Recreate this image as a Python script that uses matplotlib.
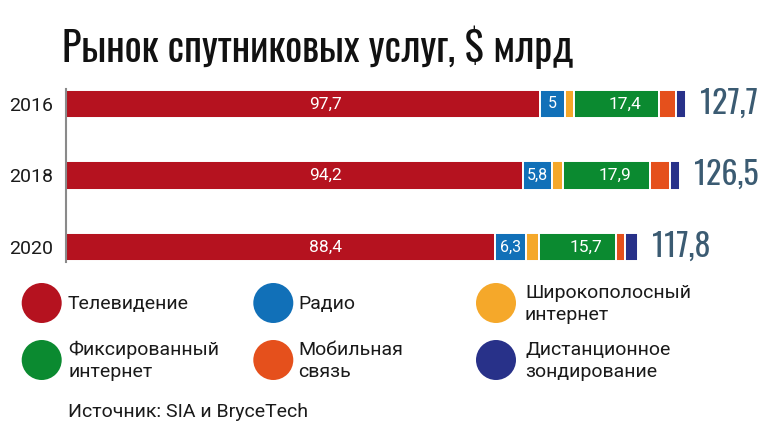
import matplotlib
matplotlib.use("Agg")
import matplotlib.pyplot as plt
from matplotlib.patches import Circle

# ---- data ----
years = ["2016", "2018", "2020"]
tv = [97.7, 94.2, 88.4]
radio = [5.0, 5.8, 6.3]
broadband = [2.0, 2.4, 2.8]
fixed = [17.4, 17.9, 15.7]
mobile = [3.6, 4.1, 2.0]
remote = [2.0, 2.1, 2.6]
totals = [127.7, 126.5, 117.8]
series_names = ["Телевидение", "Радио", "Широкополосный\nинтернет",
                "Фиксированный\nинтернет", "Мобильная\nсвязь", "Дистанционное\nзондирование"]
series_colors = ["#b5121f", "#1170b8", "#f5a82a", "#0b8a30", "#e5501c", "#283189"]
title = "Рынок спутниковых услуг, $ млрд"
source = "Источник: SIA и BryceTech"

def fmt(v):
    s = f"{v:.1f}".replace(".", ",")
    return s[:-2] if s.endswith(",0") else s

BODY = ["Roboto", "DejaVu Sans"]
NARROW = ["Oswald", "Roboto Condensed", "DejaVu Sans"]
plt.rcParams["font.family"] = BODY

W, H = 764, 426
fig = plt.figure(figsize=(W / 100, H / 100), dpi=100)

# main axes (pixel geometry)
ppu = 4.855                 # pixels per data unit
ax_left, ax_right = 66, 764
row_px = 71.5
top_center = 104
ax_top = top_center - 0.5 * row_px
ax_h = 3 * row_px
ax = fig.add_axes([ax_left / W, 1 - (ax_top + ax_h) / H, (ax_right - ax_left) / W, ax_h / H])
ax.set_xlim(0, (ax_right - ax_left) / ppu)
ax.set_ylim(2.5, -0.5)

bar_h = 0.40
ypos = list(range(len(years)))
series = [tv, radio, broadband, fixed, mobile, remote]
left = [0.0] * len(years)
for vals, col in zip(series, series_colors):
    ax.barh(ypos, vals, left=left, height=bar_h, color=col, edgecolor="white", linewidth=1.4)
    left = [l + v for l, v in zip(left, vals)]

for spine in ["top", "right", "bottom"]:
    ax.spines[spine].set_visible(False)
ax.spines["left"].set_color("#8a8a8a")
ax.spines["left"].set_linewidth(1.5)
ax.spines["left"].set_bounds(-bar_h / 2 - 0.01, 2 + bar_h / 2 + 0.01)
ax.set_xticks([])
ax.set_yticks(ypos)
ax.set_yticklabels(years, fontsize=14, color="#1a1a1a")
ax.tick_params(axis="y", length=0, pad=9.5)
ax.patch.set_alpha(0)

TV_LABEL_X = 53.5
for i in ypos:
    ax.text(TV_LABEL_X, i, fmt(tv[i]), color="white", fontsize=12.5, ha="center", va="center")
    rx = tv[i] + radio[i] / 2
    ax.text(rx, i, fmt(radio[i]), color="white", fontsize=11.5, ha="center", va="center")
    fx = tv[i] + radio[i] + broadband[i] + fixed[i] / 2
    ax.annotate(fmt(fixed[i]), (fx, i), xytext=(8, 0), textcoords="offset pixels",
                color="white", fontsize=12.5, ha="center", va="center")
    end = sum(s[i] for s in series)
    ax.annotate(fmt(totals[i]), (end, i), xytext=(14, -9.5), textcoords="offset pixels",
                color="#3b5b72", fontsize=23, ha="left", va="baseline", family=NARROW)

# overlay in pixel coordinates
ov = fig.add_axes([0, 0, 1, 1])
ov.set_xlim(0, W)
ov.set_ylim(H, 0)
ov.axis("off")
ov.patch.set_alpha(0)

ov.text(62, 62, title, fontsize=29, family=NARROW, color="#111111", ha="left", va="baseline")

col_cx = [41.7, 273.3, 496]
col_tx = [68, 298, 525]
row_cy = [303, 360]
for k, (name, col) in enumerate(zip(series_names, series_colors)):
    r, c = divmod(k, 3)
    ov.add_patch(Circle((col_cx[c], row_cy[r]), 20, color=col, lw=0))
    ov.text(col_tx[c], row_cy[r] + 1, name, fontsize=14, color="#1a1a1a", ha="left", va="center",
            linespacing=1.25)

ov.text(68, 416.7, source, fontsize=14, color="#1a1a1a", ha="left", va="baseline")

fig.savefig("out.png", dpi=100)
